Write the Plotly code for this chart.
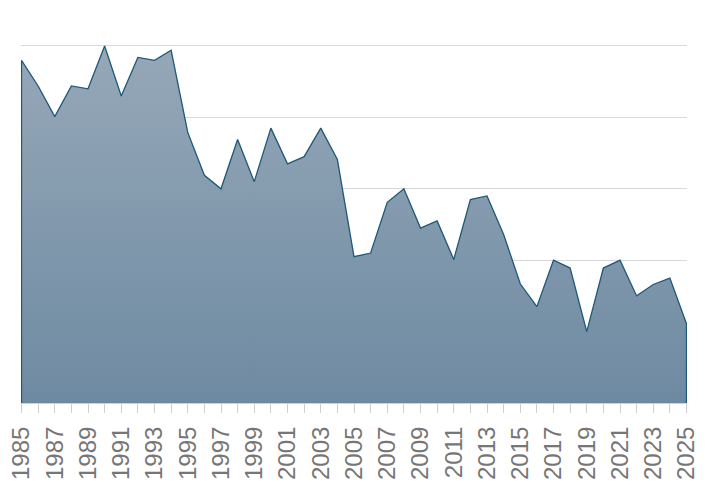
import plotly.graph_objects as go

# data (arbitrary units, gridline step = 1)
years = list(range(1985, 2026))
values = [4.80, 4.44, 4.01, 4.44, 4.40, 5.00, 4.30, 4.84, 4.80, 4.94,
          3.79, 3.19, 3.00, 3.69, 3.10, 3.85, 3.35, 3.45, 3.85, 3.41,
          2.05, 2.10, 2.81, 3.00, 2.45, 2.55, 2.01, 2.85, 2.90, 2.36,
          1.67, 1.35, 2.00, 1.89, 1.00, 1.89, 2.00, 1.50, 1.66, 1.75,
          1.11]
tick_years = years[::2]

fig = go.Figure()

# gradient area
fig.add_trace(go.Scatter(
    x=years, y=values,
    mode="lines",
    fill="tozeroy",
    line=dict(width=0),
    fillgradient=dict(type="vertical", start=0, stop=5,
                      colorscale=[[0, "#6e8aa2"], [1, "#96a8b8"]]),
    hoverinfo="skip",
    showlegend=False,
))

# outline: left edge, top, right edge
fig.add_trace(go.Scatter(
    x=[years[0]] + years + [years[-1]],
    y=[0] + values + [0],
    mode="lines",
    line=dict(color="#1f5878", width=1.3),
    showlegend=False,
))

fig.update_xaxes(
    range=[1984.97, 2025.03],
    tickvals=tick_years,
    ticktext=[str(y) for y in tick_years],
    tickangle=-90,
    ticks="outside", ticklen=9, tickcolor="#d0d0d0", tickwidth=1,
    minor=dict(dtick=1, ticks="outside", ticklen=9, tickcolor="#d0d0d0"),
    tickfont=dict(family="Liberation Sans", size=24, color="#767676"),
    ticklabeloverflow="allow",
    ticklabelstandoff=4,
    showgrid=False,
    showline=True, linecolor="#d0d0d0",
    zeroline=False,
    automargin=False,
)
fig.update_yaxes(
    range=[0, 5.196],
    dtick=1,
    showticklabels=False,
    gridcolor="#d8d8d8", gridwidth=1,
    zeroline=False,
    automargin=False,
)

# page body adds an 8px margin, so the figure is shifted by 8px
fig.update_layout(
    width=700, height=475,
    margin=dict(l=13, r=21, t=24, b=79.5),
    plot_bgcolor="white",
    paper_bgcolor="white",
)

fig.write_html("out.html")
